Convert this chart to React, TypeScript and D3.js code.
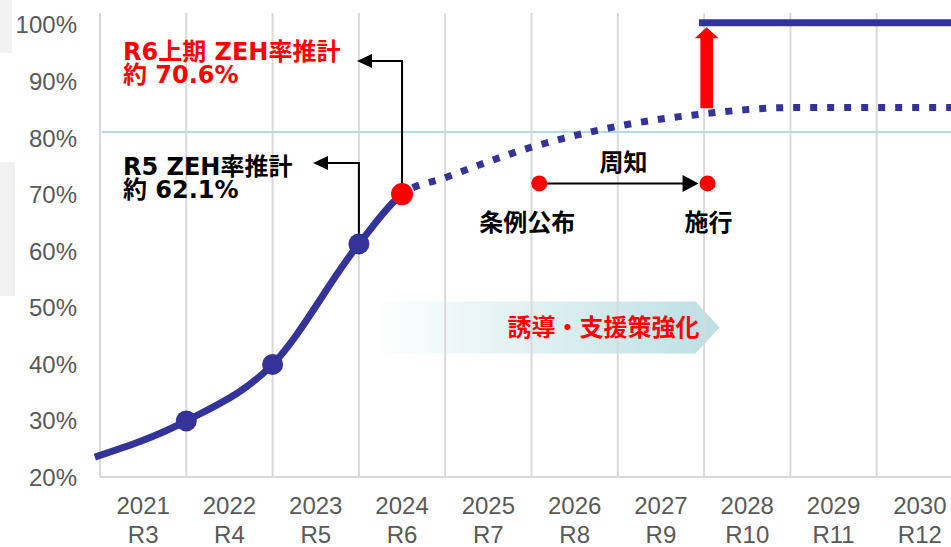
import React from 'react';
import * as d3 from 'd3';

// ---- data ----
const years = ['2021', '2022', '2023', '2024', '2025', '2026', '2027', '2028', '2029', '2030'];
const reiwa = ['R3', 'R4', 'R5', 'R6', 'R7', 'R8', 'R9', 'R10', 'R11', 'R12'];
const yTicks = [20, 30, 40, 50, 60, 70, 80, 90, 100];

// t = position in fiscal-year units (0 = start of 2021 band)
const actualT = [-0.06, 1, 2, 3, 3.5];
const actualV = [23.6, 30, 40, 61.3, 70.1];
const forecastT = [3.5, 4, 5, 6, 7, 8, 9, 10];
const forecastV = [70.1, 73.0, 78.4, 82.1, 84.3, 85.4, 85.4, 85.4];
const markerT = [1, 2, 3];
const markerV = [30, 40, 61.3];
const latestT = 3.5;
const latestV = 70.1;
const referenceValue = 81.1;
const targetValue = 100.4;
const targetStartT = 6.94;
const liftT = 7.03;
const liftFrom = 85.3;
const liftTo = 99.6;
const eventT = [5.09, 7.04];
const eventValue = 72.0;
const eventLabels = ['条例公布', '施行'];
const periodLabel = '周知';
const bandStartT = 3.13;
const bandEndT = 6.9;
const bandTipT = 7.18;
const bandValue = 46.5;
const bandLabel = '誘導・支援策強化';
const noteR5 = ['R5 ZEH率推計', '約 62.1%'];
const noteR6 = ['R6上期 ZEH率推計', '約 70.6%'];

const W = 951;
const H = 547;

export default function App() {
  const x = d3.scaleLinear().domain([0, 10]).range([100, 963]);
  const y = d3.scaleLinear().domain([20, 100]).range([477.5, 25]);

  const allT = actualT.concat(forecastT.slice(1));
  const allV = actualV.concat(forecastV.slice(1));
  const pts: [number, number][] = allT.map((t, i) => [x(t), y(allV[i])]);
  const line = d3.line().curve(d3.curveMonotoneX);
  const pathD = line(pts) || '';

  const navy = '#333399';
  const red = '#ff0000';
  const grid = '#d9d9d9';
  const labelColor = '#595959';
  const cjk = "'DejaVu Sans', 'Noto Sans CJK JP', sans-serif";

  const splitX = x(latestT);
  const bandY0 = y(bandValue) - 26;
  const bandY1 = y(bandValue) + 26;

  const r5x = x(3);
  const r5y = y(61.3);
  const r5Top = 163;
  const r6x = x(latestT);
  const r6Top = 61;

  const arrowHeadLeft = (tipX: number, cy: number) =>
    `M${tipX},${cy} L${tipX + 15},${cy - 7} L${tipX + 15},${cy + 7} Z`;

  const ex0 = x(eventT[0]);
  const ex1 = x(eventT[1]);
  const ey = y(eventValue);

  const lx = x(liftT);
  const liftBottom = y(liftFrom);
  const liftTop = y(liftTo);

  return (
    <svg
      width={W}
      height={H}
      style={{ position: 'fixed', left: 0, top: 0, background: '#fff' }}
      fontFamily="'Liberation Sans', Arial, sans-serif"
    >
      <defs>
        <linearGradient id="bandGrad" x1="0" x2="1" y1="0" y2="0">
          <stop offset="0" stopColor="#ffffff" stopOpacity={1} />
          <stop offset="1" stopColor="#bcdfe3" stopOpacity={1} />
        </linearGradient>
        <clipPath id="solidClip">
          <rect x={0} y={0} width={splitX} height={H} />
        </clipPath>
        <clipPath id="dotClip">
          <rect x={splitX} y={0} width={W - splitX} height={H} />
        </clipPath>
      </defs>

      {/* left grey boxes */}
      <rect x={0} y={0} width={12} height={53} fill="#f2f2f2" />
      <rect x={0} y={162} width={15} height={134} fill="#f2f2f2" />

      {/* gradient band arrow */}
      <path
        d={`M${x(bandStartT)},${bandY0} L${x(bandEndT)},${bandY0} L${x(bandTipT)},${(bandY0 + bandY1) / 2} L${x(bandEndT)},${bandY1} L${x(bandStartT)},${bandY1} Z`}
        fill="url(#bandGrad)"
      />

      {/* vertical grid lines */}
      {d3.range(0, 10).map((i) => (
        <line key={'g' + i} x1={x(i)} x2={x(i)} y1={13} y2={477} stroke={grid} strokeWidth={2} />
      ))}
      {/* bottom axis */}
      <line x1={x(0)} x2={W} y1={477} y2={477} stroke={grid} strokeWidth={2} />

      {/* reference line */}
      <line x1={x(0) + 2} x2={W} y1={y(referenceValue)} y2={y(referenceValue)} stroke="#b4dce2" strokeWidth={2} />

      {/* y tick labels */}
      {yTicks.map((v) => (
        <text key={'y' + v} x={77} y={y(v)} dy="0.35em" textAnchor="end" fontSize={24} fill={labelColor}>
          {v}%
        </text>
      ))}

      {/* x labels */}
      {years.map((yr, i) => (
        <g key={'x' + yr}>
          <text x={x(i + 0.5)} y={514} textAnchor="middle" fontSize={24} fill={labelColor}>
            {yr}
          </text>
          <text x={x(i + 0.5)} y={543} textAnchor="middle" fontSize={24} fill={labelColor}>
            {reiwa[i]}
          </text>
        </g>
      ))}

      {/* band label */}
      <text
        x={x(bandEndT) + 4}
        y={y(bandValue)}
        dominantBaseline="central"
        textAnchor="end"
        fontSize={24}
        fontWeight="bold"
        fill={red}
        fontFamily={cjk}
      >
        {bandLabel}
      </text>

      {/* target line */}
      <line x1={x(targetStartT)} x2={W} y1={y(targetValue)} y2={y(targetValue)} stroke={navy} strokeWidth={7} />

      {/* red lift arrow */}
      <path
        d={`M${lx - 6.3},${liftBottom} L${lx - 6.3},${liftTop + 11} L${lx - 12},${liftTop + 11} L${lx},${liftTop} L${lx + 12},${liftTop + 11} L${lx + 6.3},${liftTop + 11} L${lx + 6.3},${liftBottom} Z`}
        fill={red}
      />

      {/* curve */}
      <path d={pathD} fill="none" stroke={navy} strokeWidth={7} clipPath="url(#solidClip)" />
      <path
        d={pathD}
        fill="none"
        stroke={navy}
        strokeWidth={7}
        strokeDasharray="7 10"
        strokeDashoffset={-4}
        clipPath="url(#dotClip)"
      />

      {/* annotation leader lines */}
      <polyline points={`${r5x},${r5y} ${r5x},${r5Top} ${313 + 14},${r5Top}`} fill="none" stroke="#000" strokeWidth={2} />
      <path d={arrowHeadLeft(313, r5Top)} fill="#000" />
      <polyline
        points={`${r6x},${y(latestV)} ${r6x},${r6Top} ${357 + 14},${r6Top}`}
        fill="none"
        stroke="#000"
        strokeWidth={2}
      />
      <path d={arrowHeadLeft(357, r6Top)} fill="#000" />

      {/* markers */}
      {markerT.map((t, i) => (
        <circle key={'m' + i} cx={x(t)} cy={y(markerV[i])} r={10.5} fill={navy} />
      ))}
      <circle cx={x(latestT)} cy={y(latestV)} r={11} fill={red} />

      {/* annotation texts */}
      <g fontFamily={cjk} fontWeight="bold" fontSize={24}>
        <text x={123} y={60} fill={red}>{noteR6[0]}</text>
        <text x={123} y={83} fill={red}>{noteR6[1]}</text>
        <text x={123} y={175} fill="#000">{noteR5[0]}</text>
        <text x={123} y={198} fill="#000">{noteR5[1]}</text>
      </g>

      {/* timeline */}
      <line x1={ex0} x2={ex1 - 20} y1={ey} y2={ey} stroke="#000" strokeWidth={2} />
      <path d={`M${ex1 - 9},${ey} L${ex1 - 25},${ey - 8.5} L${ex1 - 25},${ey + 8.5} Z`} fill="#000" />
      <circle cx={ex0} cy={ey} r={8} fill={red} />
      <circle cx={ex1} cy={ey} r={8} fill={red} />
      <g fontFamily={cjk} fontWeight="bold" fontSize={24} fill="#000" textAnchor="middle">
        <text x={(ex0 + ex1) / 2} y={ey - 20} dominantBaseline="central">{periodLabel}</text>
        <text x={ex0 - 12} y={ey + 39.5} dominantBaseline="central">{eventLabels[0]}</text>
        <text x={ex1 + 1} y={ey + 39.5} dominantBaseline="central">{eventLabels[1]}</text>
      </g>
    </svg>
  );
}
